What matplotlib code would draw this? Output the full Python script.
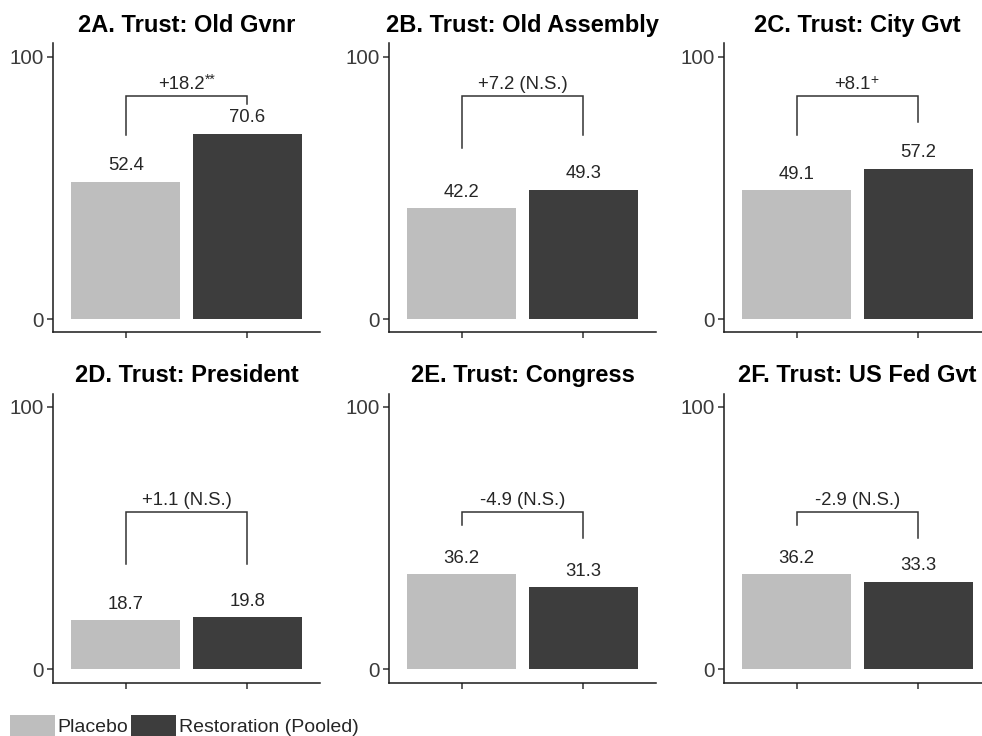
import matplotlib
matplotlib.use('Agg')
import matplotlib.pyplot as plt
from matplotlib.patches import Patch

plt.rcParams['font.family'] = ['Liberation Sans', 'DejaVu Sans']

titles = ['2A. Trust: Old Gvnr', '2B. Trust: Old Assembly', '2C. Trust: City Gvt',
          '2D. Trust: President', '2E. Trust: Congress', '2F. Trust: US Fed Gvt']
groups = ['Placebo', 'Restoration (Pooled)']
placebo = [52.4, 42.2, 49.1, 18.7, 36.2, 36.2]
restoration = [70.6, 49.3, 57.2, 19.8, 31.3, 33.3]
diff_text = ['+18.2', '+7.2 (N.S.)', '+8.1', '+1.1 (N.S.)', '-4.9 (N.S.)', '-2.9 (N.S.)']
diff_sup = ['**', '', '+', '', '', '']
bracket_top = [85, 85, 85, 60, 60, 60]
bracket_left = [70, 65, 70, 40, 55, 55]
bracket_right = [82, 70, 75, 40, 50, 50]

colors = ['#bebebe', '#3d3d3d']
W, H = 982, 736

fig = plt.figure(figsize=(W / 100, H / 100), dpi=100)

# panel boxes in pixels (left, top), each 267.6 x 289
col_left = [52.7, 388.7, 723.7]
row_top = [43.4, 393.6]
pw, ph = 267.6, 289.0

for i in range(6):
    r, c = divmod(i, 3)
    x0 = col_left[c] / W
    y0 = 1 - (row_top[r] + ph) / H
    ax = fig.add_axes([x0, y0, pw / W, ph / H])

    vals = [placebo[i], restoration[i]]
    ax.bar([1, 2], vals, width=0.9, color=colors)
    for x, v in zip([1, 2], vals):
        ax.annotate(f'{v:.1f}', xy=(x, v), xytext=(0, 8.3), textcoords='offset points',
                    ha='center', va='baseline', fontsize=13.3, color='#262626')

    # bracket between the two bars
    ax.plot([1, 1, 2, 2], [bracket_left[i], bracket_top[i], bracket_top[i], bracket_right[i]],
            color='#333333', lw=1.1, solid_joinstyle='miter')
    shift = -4 if diff_sup[i] else 0
    t = ax.annotate(diff_text[i], xy=(1.5, bracket_top[i]), xytext=(shift, 5),
                    textcoords='offset points', ha='center', va='baseline',
                    fontsize=13.3, color='#262626')
    if diff_sup[i]:
        # superscript significance marker, placed from the bottom-right of the main text
        ax.annotate(diff_sup[i], xy=(1, 0), xycoords=t, xytext=(0.3, 6.5),
                    textcoords='offset points', ha='left', va='baseline',
                    fontsize=10, color='#262626')

    ax.set_xlim(0.4, 2.6)
    ax.set_ylim(-5, 105)
    ax.set_yticks([0, 100])
    ax.set_xticks([1, 2])
    ax.set_xticklabels(['', ''])
    ax.tick_params(axis='both', length=4, width=1.1, color='#333333',
                   labelsize=14.8, labelcolor='#3a3a3a', pad=2.5)
    for s in ['top', 'right']:
        ax.spines[s].set_visible(False)
    for s in ['left', 'bottom']:
        ax.spines[s].set_linewidth(1.1)
        ax.spines[s].set_color('#1a1a1a')
    ax.set_title(titles[i], fontsize=17, fontweight='bold', pad=8.5, color='black')

handles = [Patch(facecolor=c, edgecolor='none') for c in colors]
fig.legend(handles, groups, loc='lower left', bbox_to_anchor=(10 / W, 0), ncol=2,
           frameon=False, fontsize=14, handlelength=2.3, handleheight=1.25,
           handletextpad=0.15, columnspacing=0.15, borderpad=0, borderaxespad=0,
           labelcolor='#262626')

fig.savefig('out.png', dpi=100)
